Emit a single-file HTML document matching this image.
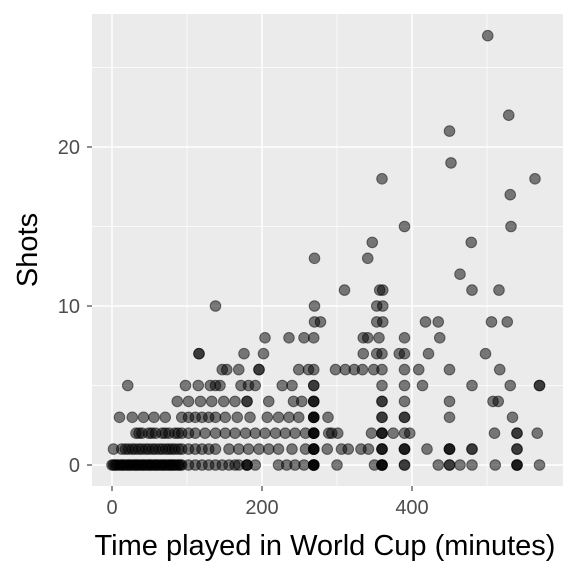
<!DOCTYPE html>
<html><head><meta charset="utf-8">
<style>
html,body{margin:0;padding:0;background:#fff;}
svg{display:block;font-family:"Liberation Sans",sans-serif;}
</style></head>
<body>
<svg id="chart" width="576" height="576" viewBox="0 0 576 576">
<rect x="0" y="0" width="576" height="576" fill="#fff"/>
<rect x="92" y="14" width="471" height="472" fill="#EBEBEB"/>
<g id="grid"></g>
<g id="points"></g>
<g id="axes"></g>
<text x="325" y="555" text-anchor="middle" font-size="29" fill="#000">Time played in World Cup (minutes)</text>
<text x="0" y="0" transform="translate(37,250) rotate(-90)" text-anchor="middle" font-size="29" fill="#000">Shots</text>
</svg>
<script>
const xTicks = [0, 200, 400];
const xMinor = [100, 300, 500];
const yTicks = [0, 10, 20];
const yMinor = [5, 15, 25];
// [minutes, shots]
const points = [
[501,27],[529,22],[450,21],[452,19],[360,18],[564,18],[531,17],[390,15],[532,15],[347,14],[479,14],
[270,13],[341,13],[464,12],[310,11],[357,11],[361,11],[480,11],[516,11],
[138,10],[270,10],[353,10],[361,10],
[270,9],[278,9],[353,9],[361,9],[418,9],[435,9],[506,9],[527,9],
[204,8],[236,8],[256,8],[269,8],[335,8],[341,8],[356,8],[390,8],[437,8],
[116,7],[116,7],[176,7],[202,7],[335,7],[353,7],[360,7],[383,7],[390,7],[422,7],[498,7],
[147,6],[153,6],[169,6],[196,6],[196,6],[249,6],[262,6],[269,6],[298,6],[311,6],[323,6],[334,6],[349,6],[360,6],[390,6],[409,6],[450,6],[517,6],
[21,5],[98,5],[115,5],[131,5],[138,5],[144,5],[172,5],[182,5],[191,5],[227,5],[240,5],[269,5],[269,5],[360,5],[390,5],[414,5],[480,5],[531,5],[570,5],[570,5],
[87,4],[102,4],[118,4],[133,4],[149,4],[164,4],[180,4],[180,4],[209,4],[242,4],[253,4],[269,4],[269,4],[269,4],[360,4],[360,4],[390,4],[450,4],[508,4],[515,4],
[10,3],[27,3],[42,3],[56,3],[71,3],[93,3],[102,3],[111,3],[120,3],[129,3],[138,3],[151,3],[167,3],[184,3],[207,3],[222,3],[236,3],[249,3],[269,3],[269,3],[269,3],[269,3],[288,3],[360,3],[360,3],[390,3],[390,3],[450,3],[534,3],
[32,2],[40,2],[49,2],[58,2],[67,2],[76,2],[84,2],[93,2],[102,2],[36,2],[53,2],[71,2],[88,2],[111,2],[124,2],[138,2],[151,2],[164,2],[178,2],[191,2],[204,2],[218,2],[231,2],[244,2],[258,2],[269,2],[269,2],[269,2],[269,2],[289,2],[293,2],[301,2],[346,2],[360,2],[360,2],[360,2],[375,2],[390,2],[397,2],[510,2],[540,2],[540,2],[567,2],
[2,1],[13,1],[22,1],[31,1],[40,1],[49,1],[58,1],[67,1],[76,1],[84,1],[93,1],[18,1],[27,1],[36,1],[45,1],[54,1],[63,1],[72,1],[80,1],[89,1],[102,1],[111,1],[120,1],[129,1],[138,1],[156,1],[169,1],[182,1],[196,1],[209,1],[222,1],[240,1],[258,1],[269,1],[269,1],[269,1],[269,1],[287,1],[306,1],[315,1],[332,1],[342,1],[360,1],[360,1],[360,1],[390,1],[390,1],[390,1],[420,1],[450,1],[450,1],[450,1],[480,1],[480,1],[540,1],[540,1],
[0,0],[4,0],[8,0],[13,0],[17,0],[22,0],[26,0],[31,0],[35,0],[40,0],[44,0],[49,0],[53,0],[58,0],[62,0],[67,0],[71,0],[76,0],[80,0],[84,0],[89,0],[93,0],
[2,0],[6,0],[11,0],[15,0],[20,0],[24,0],[29,0],[33,0],[38,0],[42,0],[47,0],[51,0],[56,0],[60,0],[65,0],[69,0],[74,0],[78,0],[82,0],[87,0],[91,0],
[102,0],[111,0],[120,0],[129,0],[138,0],[147,0],[156,0],[164,0],[169,0],[180,0],[180,0],[180,0],[191,0],[222,0],[233,0],[244,0],[256,0],[269,0],[269,0],[269,0],[269,0],[269,0],
[300,0],[350,0],[360,0],[360,0],[360,0],[360,0],[390,0],[390,0],[435,0],[450,0],[450,0],[464,0],[480,0],[511,0],[540,0],[540,0],[540,0],[570,0]
];

const NS = "http://www.w3.org/2000/svg";
const X0 = 112, XS = 0.75;
const Y0 = 465, YS = 15.9;
function xScale(v){ return X0 + v * XS; }
function yScale(v){ return Y0 - v * YS; }

const grid = document.getElementById('grid');
function line(g, x1, y1, x2, y2, stroke, w){
  const l = document.createElementNS(NS, 'line');
  l.setAttribute('x1', x1); l.setAttribute('y1', y1);
  l.setAttribute('x2', x2); l.setAttribute('y2', y2);
  l.setAttribute('stroke', stroke); l.setAttribute('stroke-width', w);
  g.appendChild(l);
  return l;
}
xMinor.forEach(v => {
  const l = line(grid, xScale(v), 14, xScale(v), 486, '#fff', 0.7);
  
  
});
yMinor.forEach(v => {
  const l = line(grid, 92, yScale(v), 563, yScale(v), '#fff', 0.7);
  
  
});
xTicks.forEach(v => {
  const l = line(grid, xScale(v), 14, xScale(v), 486, '#fff', 1.5);
  
  
});
yTicks.forEach(v => {
  const l = line(grid, 92, yScale(v), 563, yScale(v), '#fff', 1.5);
  
  
});

const pg = document.getElementById('points');
points.forEach(p => {
  const c = document.createElementNS(NS, 'circle');
  c.setAttribute('cx', xScale(p[0]));
  c.setAttribute('cy', yScale(p[1]));
  c.setAttribute('r', 5.3);
  c.setAttribute('fill', 'rgba(0,0,0,0.5)');
  c.setAttribute('stroke', 'rgba(0,0,0,0.5)');
  c.setAttribute('stroke-width', 1);
  
  
  pg.appendChild(c);
});

const axes = document.getElementById('axes');
xTicks.forEach(v => {
  const t = line(axes, xScale(v), 486, xScale(v), 491, '#333', 1.1);
  
  
  const tx = document.createElementNS(NS, 'text');
  tx.setAttribute('x', xScale(v)); tx.setAttribute('y', 514);
  tx.setAttribute('text-anchor', 'middle'); tx.setAttribute('font-size', '20');
  tx.setAttribute('fill', '#4D4D4D');
  tx.textContent = v;
  
  
  axes.appendChild(tx);
});
yTicks.forEach(v => {
  const t = line(axes, 87, yScale(v), 92, yScale(v), '#333', 1.1);
  
  
  const tx = document.createElementNS(NS, 'text');
  tx.setAttribute('x', 80); tx.setAttribute('y', yScale(v) + 7);
  tx.setAttribute('text-anchor', 'end'); tx.setAttribute('font-size', '20');
  tx.setAttribute('fill', '#4D4D4D');
  tx.textContent = v;
  
  
  axes.appendChild(tx);
});
</script>
</body></html>
